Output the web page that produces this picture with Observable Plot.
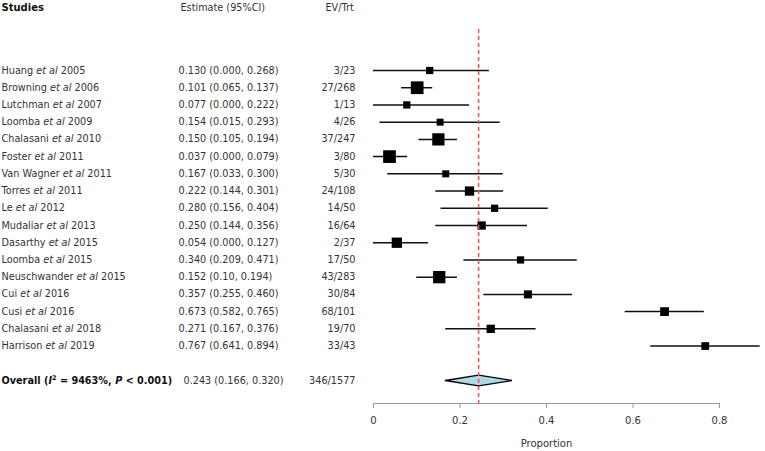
<!DOCTYPE html>
<html>
<head>
<meta charset="utf-8">
<script src="https://cdn.jsdelivr.net/npm/d3@7"></script>
<script src="https://cdn.jsdelivr.net/npm/@observablehq/plot@0.6"></script>
<style>
  html, body { margin: 0; padding: 0; background: #fff; }
  #chart svg { display: block; }
</style>
</head>
<body>
<div id="chart"></div>
<script>
// ---- data ----
const studies = [
  "Huang et al 2005", "Browning et al 2006", "Lutchman et al 2007", "Loomba et al 2009",
  "Chalasani et al 2010", "Foster et al 2011", "Van Wagner et al 2011", "Torres et al 2011",
  "Le et al 2012", "Mudaliar et al 2013", "Dasarthy et al 2015", "Loomba et al 2015",
  "Neuschwander et al 2015", "Cui et al 2016", "Cusi et al 2016", "Chalasani et al 2018",
  "Harrison et al 2019"
];
const estimates = [0.130, 0.101, 0.077, 0.154, 0.150, 0.037, 0.167, 0.222, 0.280, 0.250, 0.054, 0.340, 0.152, 0.357, 0.673, 0.271, 0.767];
const lower     = [0.000, 0.065, 0.000, 0.015, 0.105, 0.000, 0.033, 0.144, 0.156, 0.144, 0.000, 0.209, 0.10, 0.255, 0.582, 0.167, 0.641];
const upper     = [0.268, 0.137, 0.222, 0.293, 0.194, 0.079, 0.300, 0.301, 0.404, 0.356, 0.127, 0.471, 0.194, 0.460, 0.765, 0.376, 0.894];
const estLabels = [
  "0.130 (0.000, 0.268)", "0.101 (0.065, 0.137)", "0.077 (0.000, 0.222)", "0.154 (0.015, 0.293)",
  "0.150 (0.105, 0.194)", "0.037 (0.000, 0.079)", "0.167 (0.033, 0.300)", "0.222 (0.144, 0.301)",
  "0.280 (0.156, 0.404)", "0.250 (0.144, 0.356)", "0.054 (0.000, 0.127)", "0.340 (0.209, 0.471)",
  "0.152 (0.10, 0.194)", "0.357 (0.255, 0.460)", "0.673 (0.582, 0.765)", "0.271 (0.167, 0.376)",
  "0.767 (0.641, 0.894)"
];
const events = [3, 27, 1, 4, 37, 3, 5, 24, 14, 16, 2, 17, 43, 30, 68, 19, 33];
const totals = [23, 268, 13, 26, 247, 80, 30, 108, 50, 64, 37, 50, 283, 84, 101, 70, 43];
// relative study weights (%)
const weights = [3.6, 11.0, 3.6, 3.3, 10.2, 11.0, 3.3, 5.9, 3.6, 4.7, 7.3, 3.6, 10.3, 4.4, 5.2, 4.7, 4.1];

const overallLabel = "Overall (I2 = 9463%, P < 0.001)";
const overallEst = 0.243, overallLo = 0.166, overallHi = 0.320;
const overallEstLabel = "0.243 (0.166, 0.320)";
const overallEvents = 346, overallTotal = 1577;

const headers = ["Studies", "Estimate (95%CI)", "EV/Trt"];
const xTicks = [0, 0.2, 0.4, 0.6, 0.8];
const xLabel = "Proportion";

// ---- table ----
const rows = studies.map((s, i) => ({
  row: i, study: s, est: estimates[i], lo: lower[i], hi: upper[i],
  estLabel: estLabels[i], ev: `${events[i]}/${totals[i]}`, w: weights[i]
}));
const overallRow = studies.length + 1;
const overall = [{row: overallRow, study: overallLabel, estLabel: overallEstLabel, ev: `${overallEvents}/${overallTotal}`}];
const dh = 0.31; // diamond half-height in row units
const diamond = [
  {x: overallLo, y: overallRow}, {x: overallEst, y: overallRow - dh},
  {x: overallHi, y: overallRow}, {x: overallEst, y: overallRow + dh},
  {x: overallLo, y: overallRow}
];

const ML = 373;
const FS = "9.7px";

const svg = Plot.plot({
  width: 765,
  height: 451,
  marginLeft: ML,
  marginRight: 46,
  marginTop: 29,
  marginBottom: 48,
  style: {fontFamily: "'DejaVu Sans', Verdana, sans-serif", fontSize: FS, color: "#222", background: "#fff"},
  x: {domain: [0, 0.8], axis: null},
  y: {domain: [0, overallRow], range: [70, 380], axis: null},
  r: {domain: [0, 11], range: [0, 7.17]},
  marks: [
    // headers
    Plot.text([headers[0]], {frameAnchor: "top-left", dx: -ML + 1, dy: -22, lineAnchor: "middle", textAnchor: "start", fontWeight: "bold", fontSize: "10px", fill: "#111"}),
    Plot.text([headers[1]], {frameAnchor: "top-left", dx: -ML + 180, dy: -22, lineAnchor: "middle", textAnchor: "start", fill: "#333"}),
    Plot.text([headers[2]], {frameAnchor: "top-left", dx: -ML + 325, dy: -22, lineAnchor: "middle", textAnchor: "start", fill: "#333"}),
    // study rows text
    Plot.text(rows, {y: "row", text: "study", frameAnchor: "left", dx: -ML + 1, textAnchor: "start", fill: "#333"}),
    Plot.text(rows, {y: "row", text: "estLabel", frameAnchor: "left", dx: -ML + 178, textAnchor: "start", fill: "#333"}),
    Plot.text(rows, {y: "row", text: "ev", frameAnchor: "left", dx: -ML + 355, textAnchor: "end", fill: "#333"}),
    // overall text
    Plot.text(overall, {y: "row", text: "study", frameAnchor: "left", dx: -ML + 1, textAnchor: "start", fontWeight: "bold", fill: "#111"}),
    Plot.text(overall, {y: "row", text: "estLabel", frameAnchor: "left", dx: -ML + 183, textAnchor: "start", fill: "#333"}),
    Plot.text(overall, {y: "row", text: "ev", frameAnchor: "left", dx: -ML + 355, textAnchor: "end", fill: "#333"}),
    // CI lines and boxes
    Plot.ruleY(rows, {y: "row", x1: "lo", x2: "hi", stroke: "#111", strokeWidth: 1.5}),
    Plot.dot(rows, {x: "est", y: "row", r: "w", symbol: "square", fill: "#000", stroke: "none"}),
    // diamond
    Plot.line(diamond, {x: "x", y: "y", fill: "#add8e6", stroke: "#000", strokeWidth: 1.3, strokeLinejoin: "miter"}),
    // axis
    Plot.frame({anchor: "bottom", stroke: "#999"}),
    Plot.axisX({ticks: xTicks, tickFormat: d => d === 0 ? "0" : d3.format(".1f")(d), tickSize: 5, tickPadding: 8, stroke: "#999", fill: "#333", fontSize: "10px", label: null}),
    Plot.text([xLabel], {frameAnchor: "bottom", dy: 40, lineAnchor: "middle", fill: "#333", fontSize: "10px"}),
    // reference line
    Plot.ruleX([overallEst], {stroke: "#ff4d4d", strokeWidth: 1.5, strokeDasharray: "4,3"})
  ]
});

// rich text: italic "et al", formatted overall label
d3.select(svg).selectAll("text").each(function () {
  const t = this.textContent;
  const sel = d3.select(this);
  if (/ et al /.test(t) && this.childElementCount === 0) {
    const [a, b] = t.split(" et al ");
    sel.text(null);
    sel.append("tspan").text(a + " ");
    sel.append("tspan").attr("font-style", "italic").text("et al");
    sel.append("tspan").text(" " + b);
  } else if (t === overallLabel) {
    sel.text(null);
    sel.append("tspan").text("Overall (");
    sel.append("tspan").attr("font-style", "italic").text("I");
    sel.append("tspan").attr("font-size", "6.5px").attr("dy", -4).text("2");
    sel.append("tspan").attr("dy", 4).text(" = 9463%, ");
    sel.append("tspan").attr("font-style", "italic").text("P");
    sel.append("tspan").text(" < 0.001)");
  }
});

document.getElementById("chart").appendChild(svg);
</script>
</body>
</html>
